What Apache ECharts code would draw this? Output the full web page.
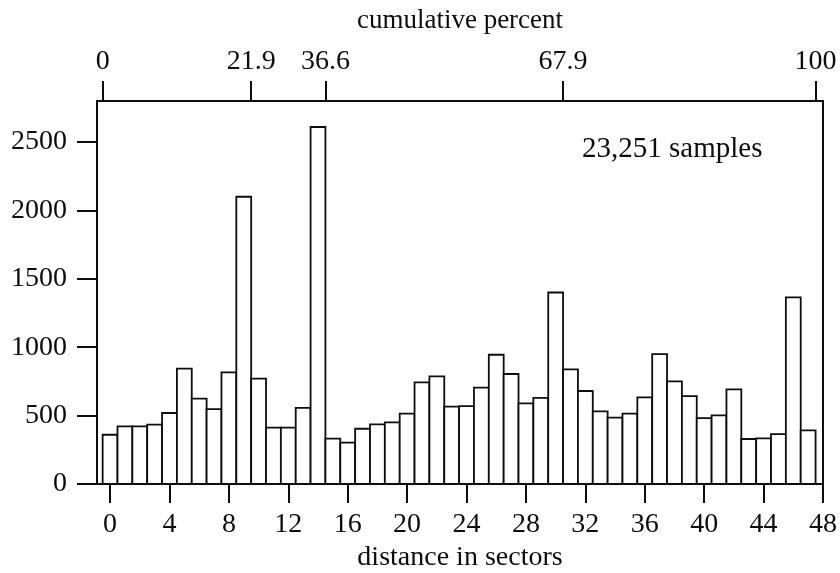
<!DOCTYPE html>
<html>
<head>
<meta charset="utf-8">
<script src="https://cdn.jsdelivr.net/npm/echarts@6/dist/echarts.min.js"></script>
<style>html,body{margin:0;padding:0;background:#fff}#c{width:840px;height:573px}</style>
</head>
<body>
<div id="c"></div>
<script>
// sector index (distance in sectors) 0..47
const sectors = [0,1,2,3,4,5,6,7,8,9,10,11,12,13,14,15,16,17,18,19,20,21,22,23,24,25,26,27,28,29,30,31,32,33,34,35,36,37,38,39,40,41,42,43,44,45,46,47];
// number of samples per sector
const counts = [360,422,422,434,519,843,624,548,816,2100,770,412,412,556,2610,331,302,404,436,451,514,743,787,565,570,704,945,804,590,629,1400,838,680,531,485,514,634,950,750,643,482,502,692,329,334,365,1365,392];
// bottom axis ticks
const xTicks = [0,4,8,12,16,20,24,28,32,36,40,44,48];
// left axis ticks
const yTicks = [0,500,1000,1500,2000,2500];
// top axis: cumulative percent, placed at sector boundaries
const topTickPos = [-0.5,9.5,14.5,30.5,47.5];
const topTickLabels = ['0','21.9','36.6','67.9','100'];
const annotation = '23,251 samples';

const FONT = 'Liberation Serif';
const INK = '#0d0d0d';
const chart = echarts.init(document.getElementById('c'));
const X_MIN = -0.88, X_MAX = 48;

chart.setOption({
  backgroundColor: '#fff',
  animation: false,
  textStyle: {fontFamily: FONT, color: INK},
  grid: {left: 97, right: 17, top: 101, bottom: 89, show: true, borderColor: INK, borderWidth: 2, outerBoundsMode: 'none', containLabel: false},
  xAxis: [{
    type: 'value', position: 'bottom', min: X_MIN, max: X_MAX,
    name: 'distance in sectors', nameLocation: 'middle', nameGap: 58,
    nameTextStyle: {fontFamily: FONT, fontSize: 28, color: INK},
    axisLine: {show: true, onZero: false, lineStyle: {color: INK, width: 2}},
    axisTick: {show: true, customValues: xTicks, length: 19, inside: false, lineStyle: {color: INK, width: 2}},
    axisLabel: {customValues: xTicks, margin: 27, fontFamily: FONT, fontSize: 28, color: INK,
      formatter: v => String(v)},
    splitLine: {show: false}
  }, {
    type: 'value', position: 'top', min: X_MIN, max: X_MAX,
    name: 'cumulative percent', nameLocation: 'middle', nameGap: 67,
    nameTextStyle: {fontFamily: FONT, fontSize: 27, color: INK},
    axisLine: {show: true, onZero: false, lineStyle: {color: INK, width: 2}},
    axisTick: {show: true, customValues: topTickPos, length: 20, lineStyle: {color: INK, width: 2}},
    axisLabel: {customValues: topTickPos, margin: 25, fontFamily: FONT, fontSize: 28, color: INK,
      formatter: function (v) {
        let best = 0;
        topTickPos.forEach((p, i) => { if (Math.abs(p - v) < Math.abs(topTickPos[best] - v)) best = i; });
        return topTickLabels[best];
      }},
    splitLine: {show: false}
  }],
  yAxis: {
    type: 'value', min: 0, max: 2800,
    axisLine: {show: true, onZero: false, lineStyle: {color: INK, width: 2}},
    axisTick: {show: true, customValues: yTicks, length: 20, lineStyle: {color: INK, width: 2}},
    axisLabel: {customValues: yTicks, margin: 30, fontFamily: FONT, fontSize: 28, color: INK,
      formatter: v => String(v)},
    splitLine: {show: false}
  },
  graphic: [{
    type: 'text', left: 582, top: 135,
    style: {text: annotation, font: '29px "Liberation Serif"', fill: INK}
  }],
  series: [{
    type: 'custom',
    xAxisIndex: 0, yAxisIndex: 0,
    data: sectors.map((s, i) => [s, counts[i]]),
    encode: {x: 0, y: 1},
    renderItem: function (params, api) {
      const s = api.value(0), v = api.value(1);
      const p0 = api.coord([s - 0.5, v]);
      const p1 = api.coord([s + 0.5, 0]);
      return {
        type: 'rect',
        shape: {x: p0[0], y: p0[1], width: p1[0] - p0[0], height: p1[1] - p0[1]},
        style: {fill: '#fff', stroke: INK, lineWidth: 1.8}
      };
    }
  }]
});
</script>
</body>
</html>
